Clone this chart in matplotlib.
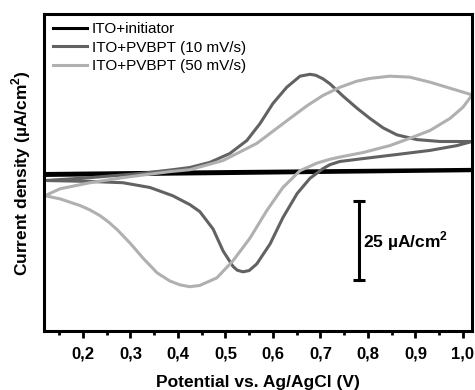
import matplotlib
matplotlib.use('Agg')
import matplotlib.pyplot as plt
from matplotlib.ticker import MultipleLocator, FuncFormatter

plt.rcParams['font.family'] = ['Liberation Sans', 'DejaVu Sans']
plt.rcParams['mathtext.fontset'] = 'custom'
plt.rcParams['mathtext.rm'] = 'Liberation Sans'
plt.rcParams['mathtext.bf'] = 'Liberation Sans:bold'

# ITO+initiator (forward, then backward)
blk_x = [0.118, 0.5, 1.019, 1.019, 0.5, 0.118]
blk_y = [-0.3, 0.3, 1.0, 0.6, -0.3, -0.9]

# ITO+PVBPT 10 mV/s : anodic sweep then cathodic sweep
dg_fx = [0.120, 0.215, 0.320, 0.389, 0.425, 0.467, 0.509, 0.545, 0.573, 0.600,
         0.629, 0.657, 0.678, 0.690, 0.705, 0.720, 0.747, 0.777, 0.804, 0.832,
         0.861, 0.903, 0.952, 1.015, 1.019]
dg_fy = [-2.5, -1.6, -0.3, 0.9, 1.6, 3.2, 6.0, 10.1, 15.5, 21.8,
         26.9, 30.4, 31.0, 30.7, 29.6, 28.0, 24.2, 20.3, 17.1, 14.1,
         11.9, 10.4, 9.8, 9.8, 9.8]
dg_bx = [1.019, 0.987, 0.931, 0.861, 0.789, 0.741, 0.720, 0.705, 0.678, 0.651,
         0.621, 0.594, 0.566, 0.550, 0.537, 0.525, 0.516, 0.495, 0.474, 0.446,
         0.425, 0.389, 0.341, 0.284, 0.215, 0.120]
dg_by = [9.8, 8.5, 7.0, 5.7, 4.4, 3.5, 2.5, 1.2, -1.8, -6.6,
         -14.2, -22.5, -28.8, -30.9, -31.3, -30.8, -29.6, -24.7, -17.8, -12.3,
         -10.1, -7.3, -4.7, -3.2, -2.8, -2.5]

# ITO+PVBPT 50 mV/s
lg_fx = [0.120, 0.152, 0.215, 0.284, 0.320, 0.383, 0.425, 0.495, 0.566, 0.636,
         0.671, 0.705, 0.741, 0.776, 0.804, 0.846, 0.888, 0.931, 0.973, 1.015,
         1.019]
lg_fy = [-7.3, -5.1, -3.2, -1.6, -0.9, 0.3, 0.9, 3.8, 9.2, 17.1,
         21.0, 24.3, 26.9, 28.8, 29.7, 30.4, 30.1, 28.5, 26.6, 24.7,
         24.4]
lg_bx = [1.019, 1.000, 0.973, 0.931, 0.888, 0.846, 0.789, 0.741, 0.720, 0.693,
         0.657, 0.621, 0.587, 0.552, 0.516, 0.482, 0.446, 0.425, 0.404, 0.383,
         0.356, 0.326, 0.299, 0.272, 0.254, 0.236, 0.215, 0.194, 0.152, 0.120]
lg_by = [24.4, 20.6, 17.1, 13.3, 10.8, 8.5, 6.3, 4.9, 4.2, 3.0,
         0.6, -4.7, -12.0, -20.6, -27.8, -33.2, -35.6, -36.0, -35.4, -34.2,
         -31.6, -26.9, -22.2, -18.0, -15.6, -13.6, -11.8, -10.4, -8.3, -7.3]

labels = ['ITO+initiator', 'ITO+PVBPT (10 mV/s)', 'ITO+PVBPT (50 mV/s)']
colors = ['#000000', '#626262', '#b0b0b0']

fig = plt.figure(figsize=(4.75, 3.9), dpi=100)
ax = fig.add_axes([0.0926, 0.151, 0.901, 0.813])

lw = 2.2
ax.plot(blk_x, blk_y, color=colors[0], lw=lw, label=labels[0], solid_joinstyle='round')
ax.plot(dg_fx + dg_bx, dg_fy + dg_by, color=colors[1], lw=lw, label=labels[1],
        solid_joinstyle='round')
ax.plot(lg_fx + lg_bx, lg_fy + lg_by, color=colors[2], lw=lw, label=labels[2],
        solid_joinstyle='round')

# scale bar: 25 uA/cm2
bar_x = 0.781
bar_y = [-34.0, -9.0]
ax.plot([bar_x, bar_x], bar_y, color='black', lw=2.2, marker='_', ms=9, mew=2.2)
ax.text(bar_x + 0.008, sum(bar_y) / 2, r'25 µA/cm$^{\mathbf{2}}$', fontsize=12.5,
        fontweight='bold', va='center', ha='left')

ax.set_xlim(0.118, 1.019)
ax.set_ylim(-50, 50)
ax.xaxis.set_major_locator(MultipleLocator(0.1))
ax.xaxis.set_minor_locator(MultipleLocator(0.05))
ax.xaxis.set_major_formatter(FuncFormatter(lambda v, _: f'{v:.1f}'.replace('.', ',')))
ax.set_yticks([])
ax.tick_params(axis='x', which='major', direction='out', length=5, width=2, pad=6,
               labelsize=12)
ax.tick_params(axis='x', which='minor', direction='out', length=3, width=2)
for lab in ax.get_xticklabels():
    lab.set_fontweight('bold')
for s in ax.spines.values():
    s.set_linewidth(2.2)

ax.set_xlabel('Potential vs. Ag/AgCl (V)', fontsize=12.5, fontweight='bold', labelpad=10)
ax.set_ylabel(r'Current density (µA/cm$^{\mathbf{2}}$)', fontsize=12.5,
              fontweight='bold', labelpad=8)

ax.legend(loc='upper left', bbox_to_anchor=(0.021, 0.975), frameon=False,
          fontsize=11, handlelength=2.2, handletextpad=0.35, labelspacing=0.31,
          borderpad=0, borderaxespad=0)

fig.savefig('out.png', dpi=100)
